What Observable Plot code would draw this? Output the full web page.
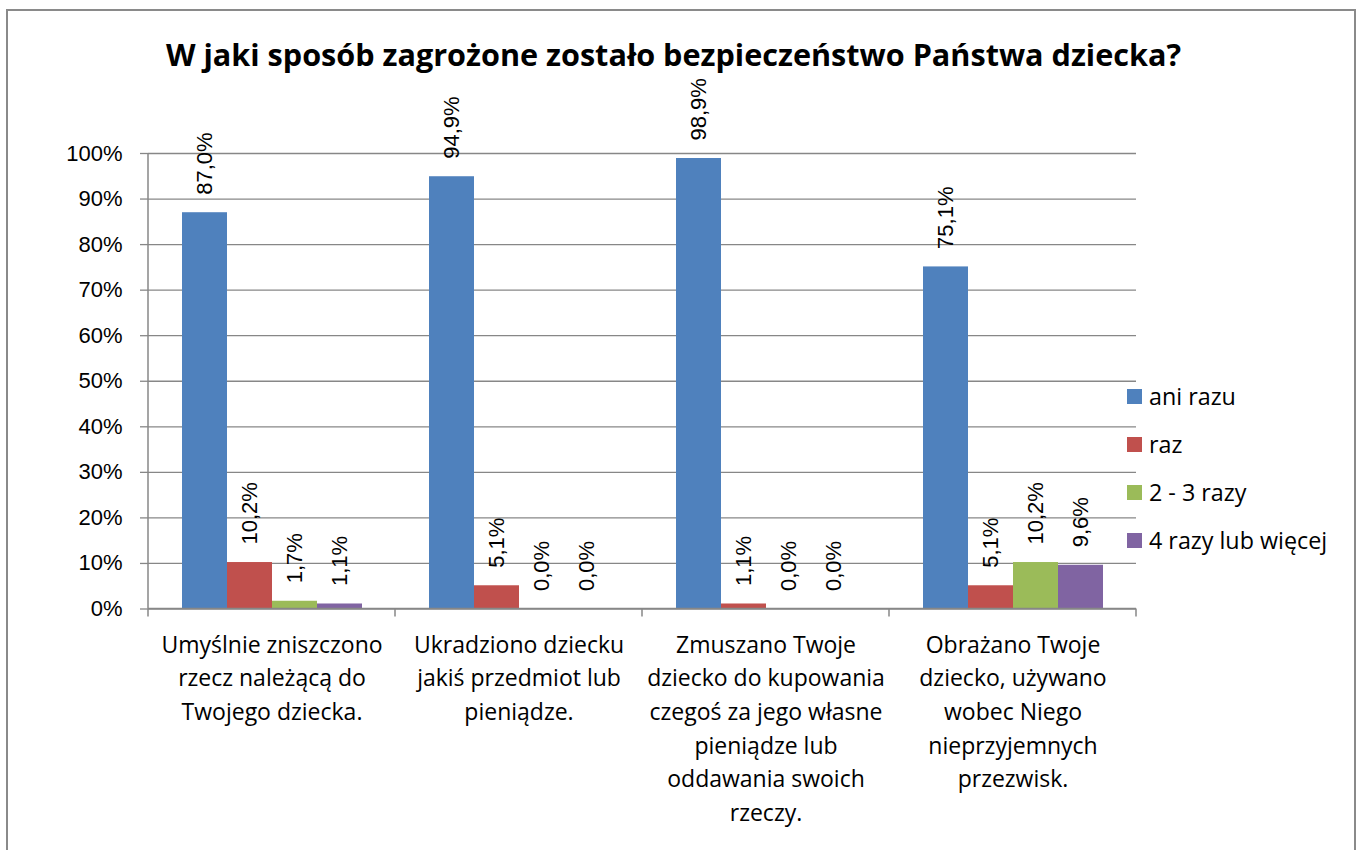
<!DOCTYPE html>
<html><head><meta charset="utf-8">
<script src="https://cdn.jsdelivr.net/npm/d3@7"></script>
<script src="https://cdn.jsdelivr.net/npm/@observablehq/plot@0.6"></script>
<style>
body{margin:0;background:#fff;overflow:hidden}
#wrap{position:relative;width:1359px;height:850px;overflow:hidden;background:#fff}
#frame{position:absolute;left:6px;top:9px;width:1350px;height:900px;border:2px solid #8a8a8a;box-sizing:border-box;pointer-events:none}
#title{position:absolute;left:0;width:1347px;top:34px;text-align:center;font-family:"Open Sans";font-weight:bold;font-size:30.6px;line-height:40px;color:#000;white-space:nowrap}
#chart{position:absolute;left:0;top:0}
.leg{position:absolute;left:1127px;height:30px;display:flex;align-items:center;font-family:"Open Sans";font-size:23.3px;color:#000;white-space:nowrap}
.sw{width:15px;height:15px;margin-right:7px}
</style></head>
<body>
<div id="wrap">
  <div id="chart"></div>
  <div id="title"></div>
  <div id="legend"></div>
  <div id="frame"></div>
</div>
<script>
const titleText = "W jaki sposób zagrożone zostało bezpieczeństwo Państwa dziecka?";
const categories = [
  "Umyślnie zniszczono\nrzecz należącą do\nTwojego dziecka.",
  "Ukradziono dziecku\njakiś przedmiot lub\npieniądze.",
  "Zmuszano Twoje\ndziecko do kupowania\nczegoś za jego własne\npieniądze lub\noddawania swoich\nrzeczy.",
  "Obrażano Twoje\ndziecko, używano\nwobec Niego\nnieprzyjemnych\nprzezwisk."
];
const series = ["ani razu", "raz", "2 - 3 razy", "4 razy lub więcej"];
const colors = ["#4F81BD", "#C0504D", "#9BBB59", "#8064A2"];
const aniRazu = [87.0, 94.9, 98.9, 75.1];
const raz = [10.2, 5.1, 1.1, 5.1];
const dwaTrzyRazy = [1.7, 0.0, 0.0, 10.2];
const czteryRazyLubWiecej = [1.1, 0.0, 0.0, 9.6];
const yTicks = [0, 10, 20, 30, 40, 50, 60, 70, 80, 90, 100];

const seriesValues = [aniRazu, raz, dwaTrzyRazy, czteryRazyLubWiecej];
const data = categories.flatMap((c, i) => series.map((s, j) => ({cat: c, series: s, value: seriesValues[j][i]})));
const fmt = v => v.toFixed(1).replace(".", ",") + "%";

document.getElementById("title").textContent = titleText;

const plot = Plot.plot({
  width: 1359,
  height: 850,
  marginLeft: 148,
  marginRight: 223,
  marginTop: 153,
  marginBottom: 241.5,
  style: {background: "transparent", color: "#000"},
  fx: {domain: categories, padding: 0, label: null},
  x: {domain: series, paddingInner: 0, paddingOuter: 0.744, axis: null},
  y: {domain: [0, 100], label: null},
  color: {domain: series, range: colors},
  marks: [
    Plot.gridY(yTicks, {stroke: "#878787", strokeOpacity: 1, strokeWidth: 1.3}),
    Plot.axisY(yTicks, {tickSize: 8, tickPadding: 18, tickFormat: d => d + "%", fontSize: 22, fontFamily: "Liberation Sans", stroke: "#878787", strokeWidth: 1.3, fill: "#000", label: null}),
    Plot.barY(data, {fx: "cat", x: "series", y: "value", fill: "series"}),
    Plot.text(data, {fx: "cat", x: "series", y: "value", text: d => fmt(d.value), rotate: -90, textAnchor: "start", dy: -18, fontSize: 22, fontFamily: "Liberation Sans", fill: "#000"}),
    Plot.axisFx({anchor: "bottom", tickSize: 0, tickPadding: 20, lineHeight: 1.46, fontSize: 23, fontFamily: "Open Sans", fill: "#000", label: null})
  ]
});
document.getElementById("chart").appendChild(plot);

// axis lines and category boundary ticks, positioned with the plot's own scales
const fxs = plot.scale("fx"), ys = plot.scale("y");
const y0 = ys.apply(0), y1 = ys.apply(100);
const bounds = categories.map(c => fxs.apply(c)).concat([fxs.apply(categories[categories.length - 1]) + fxs.step]);
const svg = d3.select(plot);
const g = svg.append("g").attr("stroke", "#878787").attr("stroke-width", 1.5);
g.append("line").attr("x1", bounds[0]).attr("x2", bounds[0]).attr("y1", y1).attr("y2", y0);
g.append("line").attr("x1", bounds[0]).attr("x2", bounds[bounds.length - 1]).attr("y1", y0).attr("y2", y0);
bounds.forEach(b => g.append("line").attr("x1", b).attr("x2", b).attr("y1", y0).attr("y2", y0 + 8));

// legend
const legCenters = [396, 444, 492, 540];
const leg = document.getElementById("legend");
series.forEach((s, i) => {
  const d = document.createElement("div");
  d.className = "leg";
  d.style.top = (legCenters[i] - 15) + "px";
  d.innerHTML = `<span class="sw" style="background:${colors[i]}"></span><span>${s}</span>`;
  leg.appendChild(d);
});
</script>
</body></html>
